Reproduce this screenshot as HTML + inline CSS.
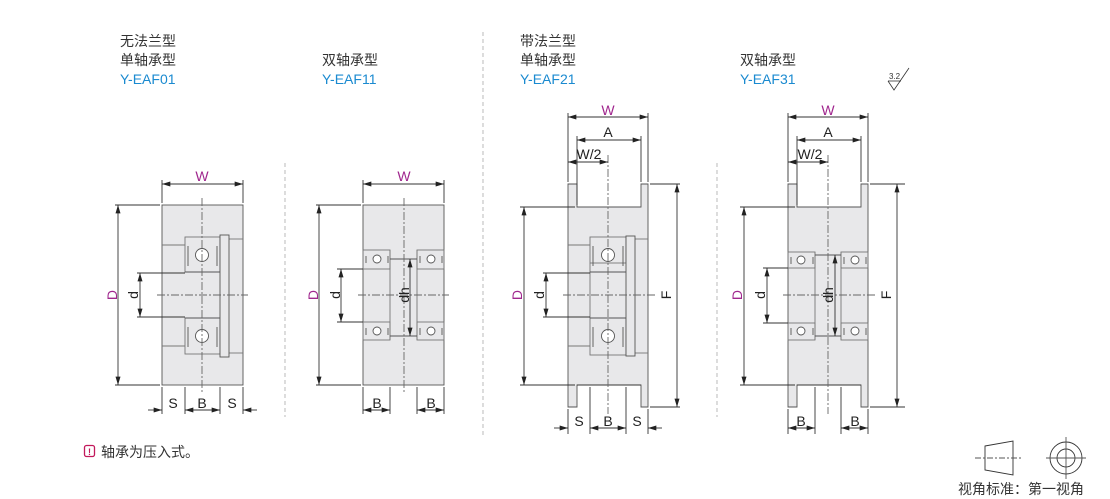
<!DOCTYPE html>
<html><head><meta charset="utf-8"><style>
html,body{margin:0;padding:0;background:#fff;}
svg{display:block;font-family:"Liberation Sans","Noto Sans CJK SC",sans-serif;}
.t{font-size:14px;fill:#333;}
.b{font-size:14px;fill:#1a8ad0;}
.m{font-size:14px;fill:#a0278e;}
.k{font-size:14px;fill:#222;}
</style></head><body>
<svg width="1110" height="499" viewBox="0 0 1110 499" xmlns="http://www.w3.org/2000/svg">
<defs>
<marker id="a" viewBox="0 0 10 6" refX="10" refY="3" markerWidth="9" markerHeight="5" orient="auto-start-reverse" markerUnits="userSpaceOnUse"><path d="M0,0L10,3L0,6z" fill="#222"/></marker>
</defs>
<text class="t" x="120" y="46">无法兰型</text>
<text class="t" x="120" y="65">单轴承型</text>
<text class="b" x="120" y="84">Y-EAF01</text>
<text class="t" x="322" y="65">双轴承型</text>
<text class="b" x="322" y="84">Y-EAF11</text>
<text class="t" x="520" y="46">带法兰型</text>
<text class="t" x="520" y="65">单轴承型</text>
<text class="b" x="520" y="84">Y-EAF21</text>
<text class="t" x="740" y="65">双轴承型</text>
<text class="b" x="740" y="84">Y-EAF31</text>
<text x="889" y="79" font-size="8" fill="#333">3.2</text>
<line x1="888" y1="81" x2="901" y2="81" stroke="#333" stroke-width="0.8"/>
<path d="M888,81 L894,90 L909,68" fill="none" stroke="#333" stroke-width="0.8"/>
<g stroke="#aaa" stroke-width="0.8" stroke-dasharray="4,3">
<line x1="285" y1="163" x2="285" y2="417"/>
<line x1="483" y1="32" x2="483" y2="437"/>
<line x1="717" y1="163" x2="717" y2="417"/>
</g>

<g stroke="#333" stroke-width="0.9" fill="none">
<rect x="162" y="205" width="81" height="180" fill="#e8e8ea" stroke="#555"/>
<line x1="162" y1="245" x2="185" y2="245" stroke="#777"/>
<line x1="162" y1="346" x2="185" y2="346" stroke="#777"/>
<line x1="229" y1="239" x2="243" y2="239" stroke="#777"/>
<line x1="229" y1="353" x2="243" y2="353" stroke="#777"/>
<rect x="185" y="237" width="35" height="35" fill="#e8e8ea" stroke="#777"/>
<rect x="185" y="318" width="35" height="36" fill="#e8e8ea" stroke="#777"/>
<rect x="220" y="235" width="9" height="122" fill="#e8e8ea" stroke="#555"/>
<line x1="185" y1="272" x2="220" y2="272" stroke="#555"/>
<line x1="185" y1="318" x2="220" y2="318" stroke="#555"/>
<path d="M188,246v20M217,246v20M188,327v20M217,327v20" stroke="#555"/>
<circle cx="202" cy="255" r="6.5" fill="#fff" stroke="#555"/>
<circle cx="202" cy="336" r="6.5" fill="#fff" stroke="#555"/>
<line x1="202" y1="198" x2="202" y2="392" stroke="#666" stroke-dasharray="8,2,2,2"/>
<line x1="157" y1="295" x2="248" y2="295" stroke="#666" stroke-dasharray="8,2,2,2"/>
<line x1="162" y1="180" x2="162" y2="203"/><line x1="243" y1="180" x2="243" y2="203"/>
<line x1="162" y1="184" x2="243" y2="184" marker-start="url(#a)" marker-end="url(#a)"/>
<line x1="115" y1="205" x2="160" y2="205"/><line x1="115" y1="385" x2="160" y2="385"/>
<line x1="118" y1="205" x2="118" y2="385" marker-start="url(#a)" marker-end="url(#a)"/>
<line x1="137" y1="273" x2="185" y2="273"/><line x1="137" y1="317" x2="185" y2="317"/>
<line x1="140" y1="273" x2="140" y2="317" marker-start="url(#a)" marker-end="url(#a)"/>
<line x1="162" y1="387" x2="162" y2="414"/><line x1="185" y1="387" x2="185" y2="414"/>
<line x1="220" y1="387" x2="220" y2="414"/><line x1="243" y1="387" x2="243" y2="414"/>
<line x1="148" y1="410" x2="162" y2="410" marker-end="url(#a)"/>
<line x1="185" y1="410" x2="220" y2="410" marker-start="url(#a)" marker-end="url(#a)"/>
<line x1="257" y1="410" x2="243" y2="410" marker-end="url(#a)"/>

<rect x="363" y="205" width="81" height="180" fill="#e8e8ea" stroke="#555"/>
<rect x="363" y="250" width="27" height="19" stroke="#777"/>
<rect x="363" y="322" width="27" height="18" stroke="#777"/>
<rect x="417" y="250" width="27" height="19" stroke="#777"/>
<rect x="417" y="322" width="27" height="18" stroke="#777"/>
<line x1="390" y1="250" x2="390" y2="340" stroke="#777"/><line x1="417" y1="250" x2="417" y2="340" stroke="#777"/>
<line x1="390" y1="259" x2="417" y2="259" stroke="#555"/><line x1="390" y1="336" x2="417" y2="336" stroke="#555"/>
<circle cx="377" cy="259" r="4" fill="#fff" stroke="#555"/><circle cx="431" cy="259" r="4" fill="#fff" stroke="#555"/>
<circle cx="377" cy="331" r="4" fill="#fff" stroke="#555"/><circle cx="431" cy="331" r="4" fill="#fff" stroke="#555"/>
<path d="M366,256v7M388,256v7M420,256v7M442,256v7M366,328v7M388,328v7M420,328v7M442,328v7" stroke="#555"/>
<line x1="404" y1="198" x2="404" y2="392" stroke="#666" stroke-dasharray="8,2,2,2"/>
<line x1="358" y1="295" x2="449" y2="295" stroke="#666" stroke-dasharray="8,2,2,2"/>
<line x1="363" y1="180" x2="363" y2="203"/><line x1="444" y1="180" x2="444" y2="203"/>
<line x1="363" y1="184" x2="444" y2="184" marker-start="url(#a)" marker-end="url(#a)"/>
<line x1="316" y1="205" x2="361" y2="205"/><line x1="316" y1="385" x2="361" y2="385"/>
<line x1="319" y1="205" x2="319" y2="385" marker-start="url(#a)" marker-end="url(#a)"/>
<line x1="337" y1="269" x2="363" y2="269"/><line x1="337" y1="322" x2="363" y2="322"/>
<line x1="341" y1="269" x2="341" y2="322" marker-start="url(#a)" marker-end="url(#a)"/>
<line x1="410" y1="259" x2="410" y2="336" marker-start="url(#a)" marker-end="url(#a)"/>
<line x1="363" y1="387" x2="363" y2="414"/><line x1="390" y1="387" x2="390" y2="414"/>
<line x1="417" y1="387" x2="417" y2="414"/><line x1="444" y1="387" x2="444" y2="414"/>
<line x1="363" y1="410" x2="390" y2="410" marker-start="url(#a)" marker-end="url(#a)"/>
<line x1="417" y1="410" x2="444" y2="410" marker-start="url(#a)" marker-end="url(#a)"/>

<path d="M568,184 H577 V207 H641 V184 H648 V407 H641 V385 H577 V407 H568 Z" fill="#e8e8ea" stroke="#555"/>
<line x1="568" y1="245" x2="590" y2="245" stroke="#777"/>
<line x1="568" y1="346" x2="590" y2="346" stroke="#777"/>
<line x1="635" y1="239" x2="648" y2="239" stroke="#777"/>
<line x1="635" y1="353" x2="648" y2="353" stroke="#777"/>
<line x1="577" y1="385" x2="641" y2="385"/>
<rect x="590" y="237" width="36" height="26" fill="#e8e8ea" stroke="#777"/>
<rect x="590" y="318" width="36" height="37" fill="#e8e8ea" stroke="#777"/>
<line x1="590" y1="263" x2="590" y2="318" stroke="#777"/>
<rect x="626" y="236" width="9" height="120" fill="#e8e8ea" stroke="#555"/>
<line x1="590" y1="272" x2="626" y2="272" stroke="#555"/>
<line x1="590" y1="318" x2="626" y2="318" stroke="#555"/>
<path d="M593,246v20M623,246v20M593,327v20M623,327v20" stroke="#555"/>
<circle cx="608" cy="255" r="6.5" fill="#fff" stroke="#555"/>
<circle cx="608" cy="336" r="6.5" fill="#fff" stroke="#555"/>
<line x1="608" y1="155" x2="608" y2="414" stroke="#666" stroke-dasharray="8,2,2,2"/>
<line x1="563" y1="295" x2="655" y2="295" stroke="#666" stroke-dasharray="8,2,2,2"/>
<line x1="568" y1="113" x2="568" y2="182"/><line x1="648" y1="113" x2="648" y2="182"/>
<line x1="568" y1="117" x2="648" y2="117" marker-start="url(#a)" marker-end="url(#a)"/>
<line x1="577" y1="136" x2="577" y2="205"/><line x1="641" y1="136" x2="641" y2="182"/>
<line x1="577" y1="140" x2="641" y2="140" marker-start="url(#a)" marker-end="url(#a)"/>
<line x1="568" y1="162" x2="608" y2="162" marker-start="url(#a)" marker-end="url(#a)"/>
<line x1="650" y1="184" x2="680" y2="184"/><line x1="650" y1="407" x2="680" y2="407"/>
<line x1="677" y1="184" x2="677" y2="407" marker-start="url(#a)" marker-end="url(#a)"/>
<line x1="520" y1="207" x2="575" y2="207"/><line x1="520" y1="385" x2="575" y2="385"/>
<line x1="524" y1="207" x2="524" y2="385" marker-start="url(#a)" marker-end="url(#a)"/>
<line x1="543" y1="273" x2="590" y2="273"/><line x1="543" y1="317" x2="590" y2="317"/>
<line x1="546" y1="273" x2="546" y2="317" marker-start="url(#a)" marker-end="url(#a)"/>
<line x1="568" y1="409" x2="568" y2="434"/><line x1="590" y1="387" x2="590" y2="434"/>
<line x1="626" y1="387" x2="626" y2="434"/><line x1="648" y1="409" x2="648" y2="434"/>
<line x1="554" y1="428" x2="568" y2="428" marker-end="url(#a)"/>
<line x1="590" y1="428" x2="626" y2="428" marker-start="url(#a)" marker-end="url(#a)"/>
<line x1="662" y1="428" x2="648" y2="428" marker-end="url(#a)"/>

<path d="M788,184 H797 V207 H861 V184 H868 V407 H861 V385 H797 V407 H788 Z" fill="#e8e8ea" stroke="#555"/>
<line x1="797" y1="385" x2="861" y2="385"/>
<rect x="788" y="252" width="27" height="16" stroke="#777"/>
<rect x="788" y="323" width="27" height="17" stroke="#777"/>
<rect x="841" y="252" width="27" height="16" stroke="#777"/>
<rect x="841" y="323" width="27" height="17" stroke="#777"/>
<line x1="815" y1="252" x2="815" y2="340" stroke="#777"/><line x1="841" y1="252" x2="841" y2="340" stroke="#777"/>
<line x1="815" y1="255" x2="841" y2="255" stroke="#555"/><line x1="815" y1="336" x2="841" y2="336" stroke="#555"/>
<circle cx="801" cy="260" r="4" fill="#fff" stroke="#555"/><circle cx="855" cy="260" r="4" fill="#fff" stroke="#555"/>
<circle cx="801" cy="331" r="4" fill="#fff" stroke="#555"/><circle cx="855" cy="331" r="4" fill="#fff" stroke="#555"/>
<path d="M791,257v7M813,257v7M844,257v7M866,257v7M791,328v7M813,328v7M844,328v7M866,328v7" stroke="#555"/>
<line x1="828" y1="155" x2="828" y2="414" stroke="#666" stroke-dasharray="8,2,2,2"/>
<line x1="783" y1="295" x2="875" y2="295" stroke="#666" stroke-dasharray="8,2,2,2"/>
<line x1="788" y1="113" x2="788" y2="182"/><line x1="868" y1="113" x2="868" y2="182"/>
<line x1="788" y1="117" x2="868" y2="117" marker-start="url(#a)" marker-end="url(#a)"/>
<line x1="797" y1="136" x2="797" y2="205"/><line x1="861" y1="136" x2="861" y2="182"/>
<line x1="797" y1="140" x2="861" y2="140" marker-start="url(#a)" marker-end="url(#a)"/>
<line x1="788" y1="162" x2="828" y2="162" marker-start="url(#a)" marker-end="url(#a)"/>
<line x1="870" y1="184" x2="905" y2="184"/><line x1="870" y1="407" x2="905" y2="407"/>
<line x1="897" y1="184" x2="897" y2="407" marker-start="url(#a)" marker-end="url(#a)"/>
<line x1="740" y1="207" x2="795" y2="207"/><line x1="740" y1="385" x2="795" y2="385"/>
<line x1="744" y1="207" x2="744" y2="385" marker-start="url(#a)" marker-end="url(#a)"/>
<line x1="763" y1="268" x2="788" y2="268"/><line x1="763" y1="323" x2="788" y2="323"/>
<line x1="767" y1="268" x2="767" y2="323" marker-start="url(#a)" marker-end="url(#a)"/>
<line x1="835" y1="255" x2="835" y2="336" marker-start="url(#a)" marker-end="url(#a)"/>
<line x1="788" y1="409" x2="788" y2="434"/><line x1="815" y1="387" x2="815" y2="434"/>
<line x1="841" y1="387" x2="841" y2="434"/><line x1="868" y1="409" x2="868" y2="434"/>
<line x1="788" y1="428" x2="815" y2="428" marker-start="url(#a)" marker-end="url(#a)"/>
<line x1="841" y1="428" x2="868" y2="428" marker-start="url(#a)" marker-end="url(#a)"/>

<path d="M985,446 L1013,441 L1013,475 L985,470 Z" stroke="#333"/>
<line x1="975" y1="458" x2="1022" y2="458" stroke="#555" stroke-dasharray="6,2,2,2"/>
<circle cx="1066" cy="458" r="16" stroke="#333"/>
<circle cx="1066" cy="458" r="9" stroke="#333"/>
<line x1="1046" y1="458" x2="1086" y2="458" stroke="#555"/>
<line x1="1066" y1="437" x2="1066" y2="479" stroke="#555"/>
</g>

<text class="m" x="202" y="181" text-anchor="middle">W</text>
<text class="m" x="404" y="181" text-anchor="middle">W</text>
<text class="m" x="608" y="115" text-anchor="middle">W</text>
<text class="m" x="828" y="115" text-anchor="middle">W</text>
<text class="k" x="608" y="137" text-anchor="middle">A</text>
<text class="k" x="828" y="137" text-anchor="middle">A</text>
<text class="k" x="589" y="159" text-anchor="middle">W/2</text>
<text class="k" x="810" y="159" text-anchor="middle">W/2</text>
<text class="k" x="173" y="408" text-anchor="middle">S</text>
<text class="k" x="202" y="408" text-anchor="middle">B</text>
<text class="k" x="232" y="408" text-anchor="middle">S</text>
<text class="k" x="377" y="408" text-anchor="middle">B</text>
<text class="k" x="431" y="408" text-anchor="middle">B</text>
<text class="k" x="579" y="426" text-anchor="middle">S</text>
<text class="k" x="608" y="426" text-anchor="middle">B</text>
<text class="k" x="637" y="426" text-anchor="middle">S</text>
<text class="k" x="801" y="426" text-anchor="middle">B</text>
<text class="k" x="855" y="426" text-anchor="middle">B</text>
<text class="m" transform="translate(117,295) rotate(-90)" text-anchor="middle">D</text>
<text class="m" transform="translate(318,295) rotate(-90)" text-anchor="middle">D</text>
<text class="m" transform="translate(522,295) rotate(-90)" text-anchor="middle">D</text>
<text class="m" transform="translate(742,295) rotate(-90)" text-anchor="middle">D</text>
<text class="k" transform="translate(138,295) rotate(-90)" text-anchor="middle">d</text>
<text class="k" transform="translate(340,295) rotate(-90)" text-anchor="middle">d</text>
<text class="k" transform="translate(544,295) rotate(-90)" text-anchor="middle">d</text>
<text class="k" transform="translate(765,295) rotate(-90)" text-anchor="middle">d</text>
<text class="k" transform="translate(409,295) rotate(-90)" text-anchor="middle">dh</text>
<text class="k" transform="translate(833,295) rotate(-90)" text-anchor="middle">dh</text>
<text class="k" transform="translate(671,295) rotate(-90)" text-anchor="middle">F</text>
<text class="k" transform="translate(891,295) rotate(-90)" text-anchor="middle">F</text>

<rect x="84.5" y="445.5" width="10" height="11" rx="2" fill="none" stroke="#c2185b" stroke-width="1.3"/>
<text x="89.5" y="455" font-size="9" font-weight="bold" fill="#c2185b" text-anchor="middle">!</text>
<text class="t" x="101" y="457">轴承为压入式。</text>
<text class="t" x="958" y="494">视角标准：第一视角</text>
</svg>
</body></html>
